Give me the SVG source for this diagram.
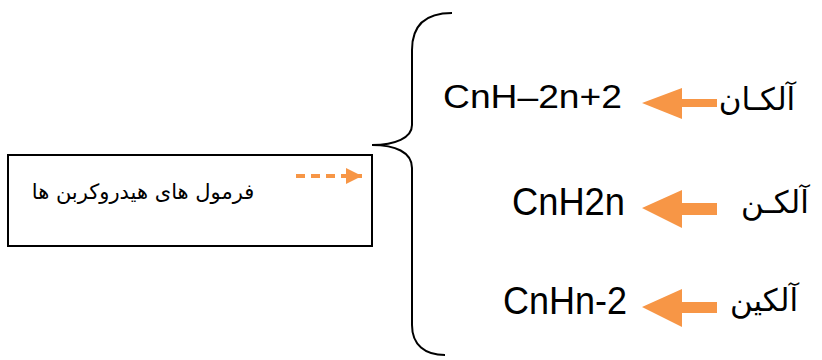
<svg xmlns="http://www.w3.org/2000/svg" width="822" height="360" viewBox="0 0 822 360">
<defs>
<style>
.fa{font-family:"DejaVu Sans","Noto Sans",sans-serif;fill:#000;text-anchor:middle}
.la{font-family:"Liberation Sans",Arial,sans-serif;fill:#000}
.arr{fill:#F79646}
</style>
<marker id="ah" markerWidth="4" markerHeight="4" refX="4" refY="2" orient="auto" markerUnits="strokeWidth">
<path d="M0,0 L4,2 L0,4 Z" fill="#F79646"/>
</marker>
</defs>
<rect width="822" height="360" fill="#fff"/>
<g id="box">
<rect x="8" y="155" width="364" height="91" fill="#fff" stroke="#000" stroke-width="2"/>
<text class="fa" x="143" y="199" font-size="21" direction="rtl">فرمول های هیدروکربن ها</text>
</g>
<g id="connectors">
<line x1="296" y1="176" x2="362" y2="176" stroke="#F79646" stroke-width="4" stroke-dasharray="9,6" marker-end="url(#ah)"/>
<path d="M452,13 C425,13 412,25 412,50 L412,125 C412,138 395,145 372,145 C395,145 412,152 412,168 L412,325 C412,345 425,355 445,355" fill="none" stroke="#000" stroke-width="2"/>
<path class="arr" d="M642,103 L682,88 L682,99 L717,99 L717,107 L682,107 L682,119 Z"/>
<path class="arr" d="M642,208 L682,190 L682,203 L717,203 L717,215 L682,215 L682,228 Z"/>
<path class="arr" d="M642,307 L682,289 L682,302 L717,302 L717,313 L682,313 L682,327 Z"/>
</g>
<g id="alkane">
<text class="la" x="443" y="108" font-size="34" textLength="179" lengthAdjust="spacingAndGlyphs">CnH–2n+2</text>
<text class="fa" x="757" y="110" font-size="31" direction="rtl">آلکـان</text>
</g>
<g id="alkene">
<text class="la" x="512" y="215" font-size="39" textLength="113" lengthAdjust="spacingAndGlyphs">CnH2n</text>
<text class="fa" x="775" y="213" font-size="31" direction="rtl">آلکـن</text>
</g>
<g id="alkyne">
<text class="la" x="503" y="314" font-size="39" textLength="124" lengthAdjust="spacingAndGlyphs">CnHn-2</text>
<text class="fa" x="764" y="311" font-size="31" direction="rtl">آلکین</text>
</g>
</svg>
